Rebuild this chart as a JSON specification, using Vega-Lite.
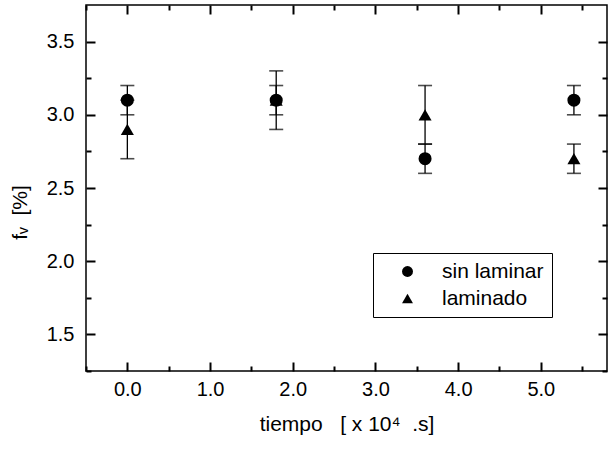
{
  "$schema": "https://vega.github.io/schema/vega-lite/v6.json",
  "autosize": "none",
  "width": 521,
  "height": 366,
  "padding": {"left": 86, "top": 5, "right": 2, "bottom": 83},
  "background": "white",
  "config": {
    "font": "Liberation Sans",
    "view": {"stroke": "black", "strokeWidth": 1.5},
    "axis": {
      "grid": false,
      "ticks": true,
      "domainColor": "black",
      "tickColor": "black",
      "tickOpacity": 1,
      "labelColor": "black",
      "titleColor": "black",
      "labelFont": "Liberation Sans",
      "titleFont": "Liberation Sans",
      "labelFontSize": 20,
      "titleFontSize": 21,
      "titleFontWeight": "normal"
    }
  },
  "data": {
    "values": [
      {"t": 0.0, "serie": "sin laminar", "fv": 3.1, "lo": 3.0, "hi": 3.2},
      {"t": 0.0, "serie": "laminado", "fv": 2.9, "lo": 2.7, "hi": 3.1},
      {"t": 1.8, "serie": "sin laminar", "fv": 3.1, "lo": 3.0, "hi": 3.2},
      {"t": 1.8, "serie": "laminado", "fv": 3.1, "lo": 2.9, "hi": 3.3},
      {"t": 3.6, "serie": "sin laminar", "fv": 2.7, "lo": 2.6, "hi": 2.8},
      {"t": 3.6, "serie": "laminado", "fv": 3.0, "lo": 2.8, "hi": 3.2},
      {"t": 5.4, "serie": "sin laminar", "fv": 3.1, "lo": 3.0, "hi": 3.2},
      {"t": 5.4, "serie": "laminado", "fv": 2.7, "lo": 2.6, "hi": 2.8}
    ]
  },
  "resolve": {"axis": {"x": "independent", "y": "independent"}},
  "layer": [
    {
      "mark": {"type": "rule", "color": "black", "strokeWidth": 1.3},
      "encoding": {
        "x": {
          "field": "t", "type": "quantitative",
          "scale": {"domain": [-0.5, 5.8], "nice": false, "zero": false},
          "axis": {
            "orient": "bottom",
            "values": [0, 1, 2, 3, 4, 5],
            "format": ".1f",
            "ticks": true,
            "offset": -9,
            "tickSize": 9,
            "tickWidth": 2,
            "domain": false,
            "labelPadding": 8,
            "title": "tiempo\u00a0\u00a0\u00a0[ x 10⁴\u00a0\u00a0.s]",
            "titlePadding": 14
          }
        },
        "y": {
          "field": "lo", "type": "quantitative",
          "scale": {"domain": [1.25, 3.75], "nice": false, "zero": false},
          "axis": {
            "orient": "left",
            "values": [1.5, 2, 2.5, 3, 3.5],
            "format": ".1f",
            "ticks": true,
            "offset": -9,
            "tickSize": 9,
            "tickWidth": 2,
            "domain": false,
            "labelPadding": 12,
            "title": "fᵥ\u00a0\u00a0[%]",
            "titleX": -65,
            "titleY": 207
          }
        },
        "y2": {"field": "hi"}
      }
    },
    {
      "mark": {"type": "tick", "orient": "horizontal", "color": "black", "size": 14, "thickness": 1.6},
      "encoding": {
        "x": {
          "field": "t", "type": "quantitative",
          "axis": {
            "orient": "top",
            "values": [0, 1, 2, 3, 4, 5],
            "labels": false,
            "ticks": true,
            "offset": -9,
            "tickSize": 9,
            "tickWidth": 2,
            "domain": false,
            "title": null
          }
        },
        "y": {
          "field": "lo", "type": "quantitative",
          "axis": {
            "orient": "right",
            "values": [1.5, 2, 2.5, 3, 3.5],
            "labels": false,
            "ticks": true,
            "offset": -9,
            "tickSize": 9,
            "tickWidth": 2,
            "domain": false,
            "title": null
          }
        }
      }
    },
    {
      "mark": {"type": "tick", "orient": "horizontal", "color": "black", "size": 14, "thickness": 1.6},
      "encoding": {
        "x": {
          "field": "t", "type": "quantitative",
          "axis": {
            "orient": "bottom",
            "values": [-0.5, 0.5, 1.5, 2.5, 3.5, 4.5, 5.5],
            "labels": false,
            "ticks": true,
            "offset": -5,
            "tickSize": 5,
            "tickWidth": 2,
            "domain": false,
            "title": null
          }
        },
        "y": {
          "field": "hi", "type": "quantitative",
          "axis": {
            "orient": "left",
            "values": [1.25, 1.75, 2.25, 2.75, 3.25],
            "labels": false,
            "ticks": true,
            "offset": -5,
            "tickSize": 5,
            "tickWidth": 2,
            "domain": false,
            "title": null
          }
        }
      }
    },
    {
      "mark": {"type": "point", "filled": true, "opacity": 1, "color": "black"},
      "encoding": {
        "x": {
          "field": "t", "type": "quantitative",
          "axis": {
            "orient": "top",
            "values": [-0.5, 0.5, 1.5, 2.5, 3.5, 4.5, 5.5],
            "labels": false,
            "ticks": true,
            "offset": -5,
            "tickSize": 5,
            "tickWidth": 2,
            "domain": false,
            "title": null
          }
        },
        "y": {
          "field": "fv", "type": "quantitative",
          "axis": {
            "orient": "right",
            "values": [1.25, 1.75, 2.25, 2.75, 3.25],
            "labels": false,
            "ticks": true,
            "offset": -5,
            "tickSize": 5,
            "tickWidth": 2,
            "domain": false,
            "title": null
          }
        },
        "shape": {
          "field": "serie", "type": "nominal",
          "scale": {"domain": ["sin laminar", "laminado"], "range": ["circle", "triangle-up"]},
          "legend": {
            "title": null,
            "orient": "none",
            "legendX": 287,
            "legendY": 248,
            "strokeColor": "black",
            "fillColor": "white",
            "padding": 8,
            "symbolOffset": 16,
            "labelFontSize": 21,
            "labelFont": "Liberation Sans",
            "labelColor": "black",
            "labelExpr": "datum.label + '\u00a0\u00a0\u00a0'",
            "symbolSize": 120,
            "symbolFillColor": "black",
            "symbolStrokeColor": "black",
            "labelOffset": 24,
            "rowPadding": 5
          }
        },
        "size": {"value": 170}
      }
    }
  ]
}
